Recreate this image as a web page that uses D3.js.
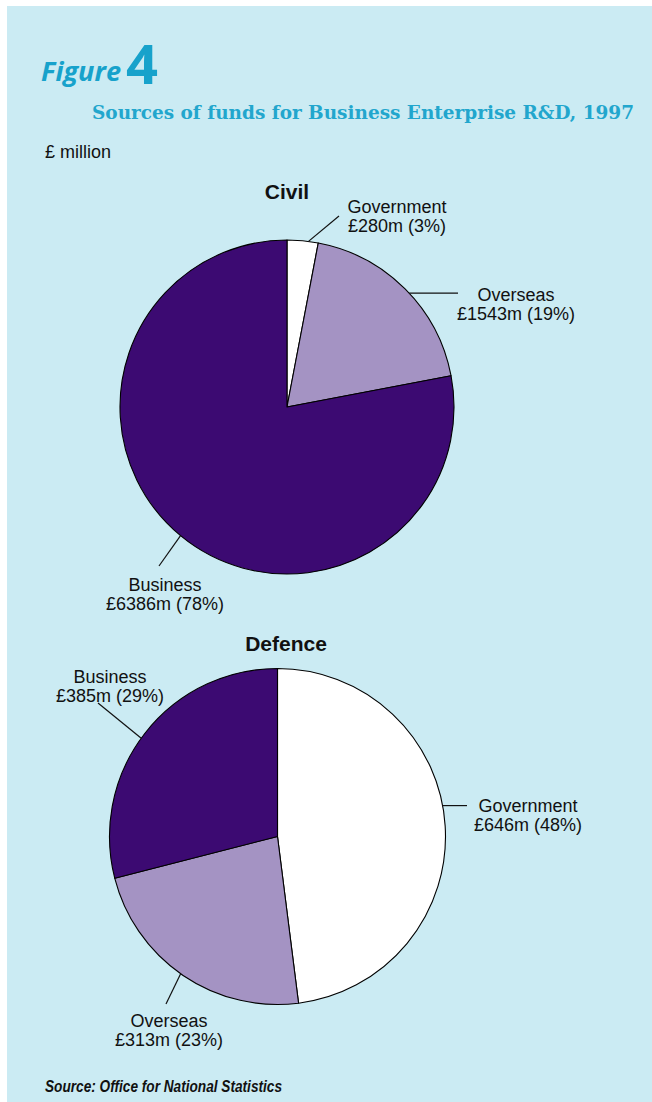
<!DOCTYPE html>
<html>
<head>
<meta charset="utf-8">
<script src="https://cdn.jsdelivr.net/npm/d3@7"></script>
<style>
  html, body { margin: 0; padding: 0; background: #ffffff; }
  svg { display: block; }
  text { font-family: "Liberation Sans", Arial, sans-serif; }
</style>
</head>
<body>
<script>
// Funding sources, clockwise from 12 o'clock
const sources = ["Government", "Overseas", "Business"];
const civilAmounts = [280, 1543, 6386];      // £ million
const civilShares = [3, 19, 78];             // per cent
const defenceAmounts = [646, 313, 385];      // £ million
const defenceShares = [48, 23, 29];          // per cent

const W = 652, H = 1102;
const colour = d3.scaleOrdinal()
  .domain(sources)
  .range(["#ffffff", "#a493c3", "#3c0a72"]);

const svg = d3.select("body").append("svg")
  .attr("width", W).attr("height", H);

// panel
svg.append("rect").attr("x", 7).attr("y", 6)
  .attr("width", W - 7).attr("height", H - 6)
  .attr("fill", "#cbebf3");

// heading
svg.append("text").attr("x", 41).attr("y", 81)
  .attr("fill", "#17a2cb")
  .style("font-family", "'Open Sans', 'DejaVu Sans', sans-serif")
  .style("font-weight", 700).style("font-style", "italic")
  .style("font-size", "27px")
  .attr("textLength", 80).attr("lengthAdjust", "spacingAndGlyphs")
  .text("Figure");
svg.append("text").attr("x", 126).attr("y", 84)
  .attr("fill", "#17a2cb")
  .style("font-family", "'Open Sans', 'DejaVu Sans', sans-serif")
  .style("font-weight", 700)
  .style("font-size", "53px")
  .attr("textLength", 32).attr("lengthAdjust", "spacingAndGlyphs")
  .text("4");
svg.append("text").attr("x", 92).attr("y", 119)
  .attr("fill", "#22a6cd")
  .style("font-family", "'DejaVu Serif', serif")
  .style("font-weight", 700)
  .style("font-size", "18px")
  .attr("textLength", 542).attr("lengthAdjust", "spacingAndGlyphs")
  .text("Sources of funds for Business Enterprise R&D, 1997");
svg.append("text").attr("x", 45).attr("y", 158)
  .attr("fill", "#111")
  .style("font-size", "18px")
  .text("£ million");

// source line
svg.append("text").attr("x", 45).attr("y", 1092)
  .attr("fill", "#111")
  .style("font-weight", 700).style("font-style", "italic")
  .style("font-size", "16px")
  .attr("textLength", 237).attr("lengthAdjust", "spacingAndGlyphs")
  .text("Source: Office for National Statistics");

const pie = d3.pie().sort(null).value(d => d.share);

function drawPie(cfg) {
  const rows = sources.map((s, i) => ({
    name: s, amount: cfg.amounts[i], share: cfg.shares[i]
  }));
  const arcs = pie(rows);
  const g = svg.append("g").attr("transform", `translate(${cfg.cx},${cfg.cy})`);
  const arc = d3.arc().innerRadius(0).outerRadius(cfg.r);

  g.selectAll("path.slice").data(arcs).join("path")
    .attr("class", "slice")
    .attr("d", arc)
    .attr("fill", d => colour(d.data.name))
    .attr("stroke", "#000").attr("stroke-width", 1.1)
    .attr("stroke-linejoin", "round");

  svg.append("text")
    .attr("x", cfg.titleX).attr("y", cfg.titleY)
    .attr("text-anchor", "middle")
    .style("font-weight", 700).style("font-size", "21px")
    .attr("fill", "#111")
    .text(cfg.title);

  arcs.forEach((d, i) => {
    const lab = cfg.labels[i];
    const a = (d.startAngle + d.endAngle) / 2 + (lab.shift || 0) * Math.PI / 180;
    const sx = cfg.cx + cfg.r * Math.sin(a);
    const sy = cfg.cy - cfg.r * Math.cos(a);
    const ex = lab.lx;
    const ey = lab.flat ? sy : lab.ly;
    svg.append("line")
      .attr("x1", sx).attr("y1", sy).attr("x2", ex).attr("y2", ey)
      .attr("stroke", "#111").attr("stroke-width", 1.2);
    const t = svg.append("text")
      .attr("x", lab.tx).attr("y", lab.ty)
      .attr("text-anchor", "middle")
      .attr("fill", "#111")
      .style("font-size", "18px");
    t.append("tspan").attr("x", lab.tx).attr("dy", 0).text(d.data.name);
    t.append("tspan").attr("x", lab.tx).attr("dy", 19)
      .text(`£${d.data.amount}m (${d.data.share}%)`);
  });
}

drawPie({
  title: "Civil", titleX: 287, titleY: 199,
  cx: 287, cy: 407, r: 167,
  amounts: civilAmounts, shares: civilShares,
  labels: [
    { shift: 2, lx: 339, ly: 216, tx: 397, ty: 213 },
    { shift: 2, lx: 458, flat: true, tx: 516, ty: 301 },
    { shift: 0, lx: 159, ly: 566, tx: 165, ty: 591 }
  ]
});

drawPie({
  title: "Defence", titleX: 286, titleY: 651,
  cx: 277.5, cy: 836.5, r: 168,
  amounts: defenceAmounts, shares: defenceShares,
  labels: [
    { shift: -7, lx: 467, flat: true, tx: 528, ty: 812 },
    { shift: 1, lx: 166, ly: 1004, tx: 169, ty: 1027 },
    { shift: -2, lx: 98, ly: 703, tx: 110, ty: 683 }
  ]
});
</script>
</body>
</html>
